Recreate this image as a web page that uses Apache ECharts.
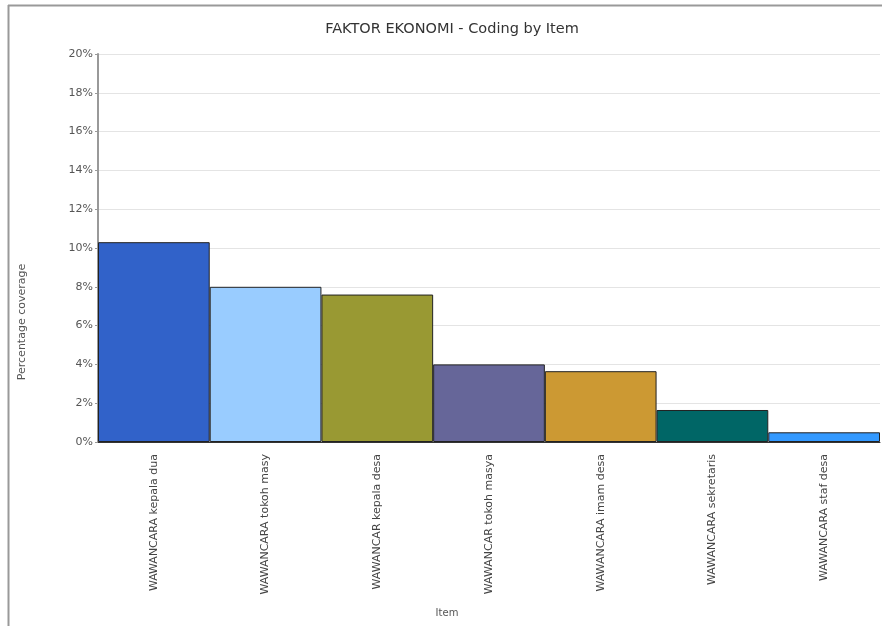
<!DOCTYPE html>
<html><head><meta charset="utf-8">
<script src="https://cdn.jsdelivr.net/npm/echarts@6/dist/echarts.min.js"></script>
<style>html,body{margin:0;padding:0;background:#fff}#c{width:882px;height:626px}</style>
</head><body><div id="c"></div>
<script>
const categories = ["WAWANCARA kepala dua","WAWANCARA tokoh masy","WAWANCAR kepala desa","WAWANCAR tokoh masya","WAWANCARA imam desa","WAWANCARA sekretaris","WAWANCARA staf desa"];
const values = [10.3, 8.0, 7.6, 4.0, 3.65, 1.65, 0.5];
const colors = ["#3162c9","#99ccff","#999933","#666699","#cc9933","#006666","#3399ff"];
const yTicks = [0,2,4,6,8,10,12,14,16,18,20];
const FONT = 'DejaVu Sans, Liberation Sans, Arial';

const chart = echarts.init(document.getElementById('c'), null, {renderer:'canvas'});
chart.setOption({
  animation:false,
  backgroundColor:'#fff',
  title:{text:'FAKTOR EKONOMI - Coding by Item',left:447,top:17,textAlign:'center',
    textStyle:{fontFamily:FONT,fontSize:14.5,fontWeight:'normal',color:'#333'}},
  graphic:[
    {type:'line',shape:{x1:8.5,y1:5,x2:8.5,y2:626},style:{stroke:'#999',lineWidth:2}},
    {type:'line',shape:{x1:8,y1:5.5,x2:882,y2:5.5},style:{stroke:'#999',lineWidth:2}},
    {type:'text',x:22,y:322,rotation:Math.PI/2,
      style:{text:'Percentage coverage',font:'11px '+FONT,fill:'#555',textAlign:'center',textVerticalAlign:'middle'}},
    {type:'text',x:447,y:613,
      style:{text:'Item',font:'10px '+FONT,fill:'#555',textAlign:'center',textVerticalAlign:'middle'}}
  ],
  grid:{left:98,right:2,top:54,bottom:184},
  xAxis:{type:'category',data:categories,
    axisLine:{lineStyle:{color:'#333'}},axisTick:{show:false},
    axisLabel:{rotate:90,interval:0,fontFamily:FONT,fontSize:11,color:'#444',margin:12}},
  yAxis:{type:'value',min:0,max:20,interval:2,
    axisLine:{show:true,lineStyle:{color:'#999',width:2}},axisTick:{show:true,length:3,lineStyle:{color:'#999'}},
    splitLine:{lineStyle:{color:'#e4e4e4'}},
    axisLabel:{formatter:function(v){return yTicks.indexOf(v)>=0?v+'%':'';},fontFamily:FONT,fontSize:11,color:'#555',margin:5}},
  series:[{type:'bar',barCategoryGap:'0%',
    data:values.map((v,i)=>({value:v,itemStyle:{color:colors[i]}})),
    itemStyle:{borderColor:'#222',borderWidth:1}}]
});
</script></body></html>
